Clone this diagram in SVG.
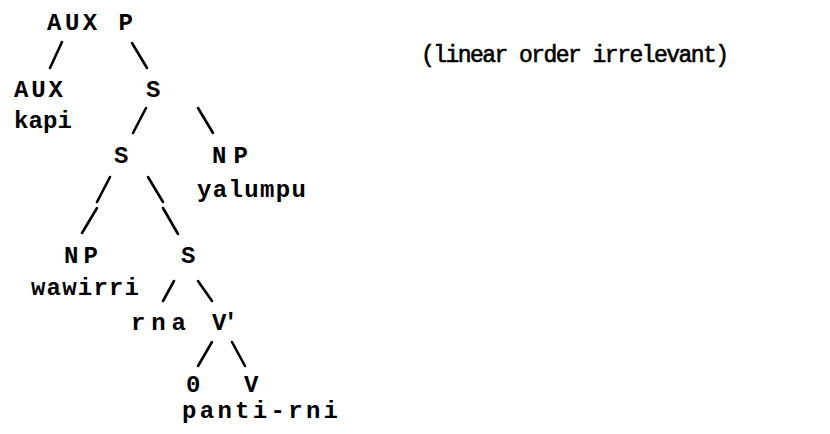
<svg xmlns="http://www.w3.org/2000/svg" width="830" height="434" viewBox="0 0 830 434">
<style>
.t{font-family:"Liberation Mono","DejaVu Sans Mono",monospace;font-size:24px;font-weight:bold;fill:#000}
.n{font-family:"Liberation Mono","DejaVu Sans Mono",monospace;font-size:23px;fill:#000;stroke:#000;stroke-width:0.6}
.c line{stroke:#000;stroke-width:2.6;stroke-linecap:round}
</style>
<rect width="830" height="434" fill="#fff"/>
<g id="connectors" class="c">
<line x1="62" y1="42" x2="50" y2="68"/>
<line x1="132" y1="43" x2="147" y2="68"/>
<line x1="146" y1="108" x2="133" y2="133"/>
<line x1="198" y1="108" x2="213" y2="133"/>
<line x1="110" y1="177" x2="97" y2="202"/>
<line x1="97" y1="208" x2="82" y2="233"/>
<line x1="148" y1="177" x2="163" y2="202"/>
<line x1="163" y1="208" x2="178" y2="234"/>
<line x1="174" y1="281" x2="163" y2="301"/>
<line x1="198" y1="281" x2="212" y2="301"/>
<line x1="212" y1="342" x2="198" y2="366"/>
<line x1="232" y1="342" x2="245" y2="366"/>
</g>
<g id="auxp"><text class="t" x="47" y="30" textLength="86" lengthAdjust="spacing">AUX P</text></g>
<g id="aux"><text class="t" x="14" y="97" textLength="49" lengthAdjust="spacing">AUX</text><text class="t" x="14" y="128" textLength="58" lengthAdjust="spacing">kapi</text></g>
<g id="s1"><text class="t" x="146" y="97">S</text></g>
<g id="s2"><text class="t" x="114" y="163">S</text></g>
<g id="np1"><text class="t" x="212" y="163" textLength="36" lengthAdjust="spacing">NP</text><text class="t" x="197" y="197" textLength="109" lengthAdjust="spacing">yalumpu</text></g>
<g id="np2"><text class="t" x="64" y="263" textLength="34" lengthAdjust="spacing">NP</text><text class="t" x="31" y="295" textLength="108" lengthAdjust="spacing">wawirri</text></g>
<g id="s3"><text class="t" x="181" y="263">S</text></g>
<g id="rna"><text class="t" x="131" y="330" textLength="55" lengthAdjust="spacing">rna</text></g>
<g id="vbar"><text class="t" x="212" y="330" textLength="26" lengthAdjust="spacing">V'</text></g>
<g id="zero"><text class="t" x="186" y="392">0</text></g>
<g id="v"><text class="t" x="244" y="392">V</text><text class="t" x="182" y="418" textLength="156" lengthAdjust="spacing">panti-rni</text></g>
<g id="note"><text class="n" x="421" y="62" textLength="308" lengthAdjust="spacing">(linear order irrelevant)</text></g>
</svg>
